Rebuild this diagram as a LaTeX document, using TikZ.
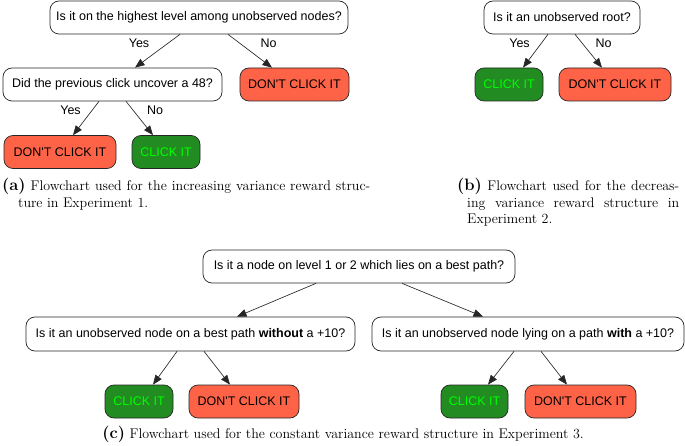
\documentclass[tikz,border=0pt]{standalone}
\usepackage{fontspec}
\newfontfamily\nodefont{Liberation Sans}
\usetikzlibrary{arrows.meta}
\definecolor{tomato}{HTML}{FF6347}
\definecolor{forest}{HTML}{228B22}
\definecolor{lime}{HTML}{00FF00}
\newcommand{\sublabel}[1]{{\fontsize{16.5}{16.5}\selectfont\bfseries(#1)}}
\tikzset{
  box/.style={draw=black!85, line width=0.7pt, rounded corners=9pt, inner sep=0pt,
    font=\nodefont\fontsize{12.5}{15}\selectfont, minimum height=33pt},
  qbox/.style={box, fill=white, text=black},
  nobox/.style={box, fill=tomato, text=black},
  yesbox/.style={box, fill=forest, text=lime},
  conn/.style={draw=black!85, line width=0.65pt, -{Triangle[length=9.5pt,width=7.5pt]}},
  lbl/.style={font=\nodefont\fontsize{12.5}{15}\selectfont, inner sep=0pt},
  captext/.style={font=\fontsize{14}{16.5}\selectfont, inner sep=0pt, anchor=base west}
}
\begin{document}
\begin{tikzpicture}[x=1pt, y=-1pt]
\useasboundingbox (0,0) rectangle (685,446);
% ---------- (a)
\node[qbox, minimum width=298pt] (a1) at (199,17.5) {Is it on the highest level among unobserved nodes?};
\node[qbox, minimum width=219pt] (a2) at (112.5,84.5) {Did the previous click uncover a 48?};
\node[nobox, minimum width=109pt] (a3) at (294.5,84.5) {DON'T CLICK IT};
\node[nobox, minimum width=112pt] (a4) at (60,152) {DON'T CLICK IT};
\node[yesbox, minimum width=68pt] (a5) at (166,152) {CLICK IT};
\draw[conn] ([xshift=-19pt]a1.south) -- ([xshift=22.5pt]a2.north);
\draw[conn] ([xshift=29pt]a1.south) -- ([xshift=-22.5pt]a3.north);
\draw[conn] ([xshift=-13.5pt]a2.south) -- ([xshift=13pt]a4.north);
\draw[conn] ([xshift=13.5pt]a2.south) -- ([xshift=-13pt]a5.north);
\node[lbl] (la1) at (139,43) {Yes};
\node[lbl] (la2) at (268.5,43) {No};
\node[lbl] (la3) at (70.5,110.5) {Yes};
\node[lbl] (la4) at (155,110.5) {No};
\node[captext] (capa1) at (2,191) {\makebox[368pt][s]{\sublabel{a} Flowchart used for the increasing variance reward struc-}};
\node[captext] (capa2) at (18,208) {ture in Experiment 1.};
% ---------- (b)
\node[qbox, minimum width=156pt] (b1) at (562,17.5) {Is it an unobserved root?};
\node[yesbox, minimum width=68pt] (b2) at (509,84.5) {CLICK IT};
\node[nobox, minimum width=112pt] (b3) at (615,84.5) {DON'T CLICK IT};
\draw[conn] ([xshift=-14pt]b1.south) -- ([xshift=14pt]b2.north);
\draw[conn] ([xshift=13pt]b1.south) -- ([xshift=-13pt]b3.north);
\node[lbl] (lb1) at (519.5,43) {Yes};
\node[lbl] (lb2) at (603.5,43) {No};
\node[captext] (capb1) at (457,191) {\makebox[222pt][s]{\sublabel{b} Flowchart used for the decreas-}};
\node[captext] (capb2) at (467,207.5) {\makebox[212pt][s]{ing variance reward structure in}};
\node[captext] (capb3) at (467,224) {Experiment 2.};
% ---------- (c)
\node[qbox, minimum width=312pt] (c1) at (359,266.5) {Is it a node on level 1 or 2 which lies on a best path?};
\node[qbox, minimum width=329pt, minimum height=34pt] (c2) at (190.5,334) {Is it an unobserved node on a best path \textbf{without} a +10?};
\node[qbox, minimum width=312pt, minimum height=34pt] (c3) at (528,334) {Is it an unobserved node lying on a path \textbf{with} a +10?};
\node[yesbox, minimum width=68pt] (c4) at (139,401.5) {CLICK IT};
\node[nobox, minimum width=110pt] (c5) at (244,401.5) {DON'T CLICK IT};
\node[yesbox, minimum width=67pt] (c6) at (474.5,401.5) {CLICK IT};
\node[nobox, minimum width=111pt] (c7) at (580.5,401.5) {DON'T CLICK IT};
\draw[conn] ([xshift=-43pt]c1.south) -- ([xshift=46.5pt]c2.north);
\draw[conn] ([xshift=43pt]c1.south) -- ([xshift=-45pt]c3.north);
\draw[conn] ([xshift=-13.5pt]c2.south) -- ([xshift=14pt]c4.north);
\draw[conn] ([xshift=13.5pt]c2.south) -- ([xshift=-14pt]c5.north);
\draw[conn] ([xshift=-14pt]c3.south) -- ([xshift=13.5pt]c6.north);
\draw[conn] ([xshift=13pt]c3.south) -- ([xshift=-13.5pt]c7.north);
\node[captext, anchor=base] (capc) at (343,438) {\sublabel{c} Flowchart used for the constant variance reward structure in Experiment 3.};
\end{tikzpicture}
\end{document}
